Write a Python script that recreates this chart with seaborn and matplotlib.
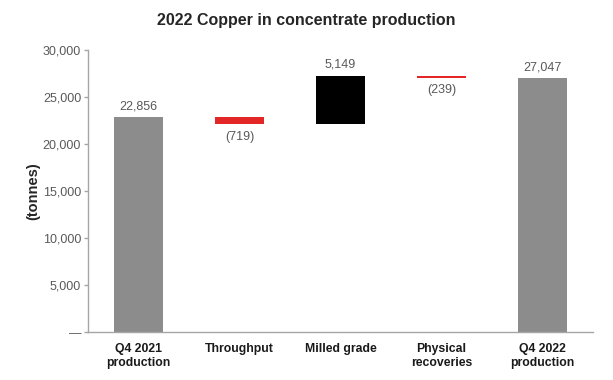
import matplotlib
matplotlib.use("Agg")
import matplotlib.pyplot as plt
import matplotlib.ticker as mticker
import seaborn as sns
import pandas as pd

categories = ["Q4 2021\nproduction", "Throughput", "Milled grade", "Physical\nrecoveries", "Q4 2022\nproduction"]
changes = [22856, -719, 5149, -239, 27047]
kinds = ["total", "step", "step", "step", "total"]
labels = ["22,856", "(719)", "5,149", "(239)", "27,047"]

sns.set_style("white")
plt.rcParams["font.family"] = ["Liberation Sans", "DejaVu Sans"]

# waterfall bottoms and heights
bottoms, heights = [], []
running = 0
for c, k in zip(changes, kinds):
    if k == "total":
        bottoms.append(0)
        heights.append(c)
        running = c
    else:
        lo = min(running, running + c)
        bottoms.append(lo)
        heights.append(abs(c))
        running += c

colors = []
for c, k in zip(changes, kinds):
    if k == "total":
        colors.append("#8c8c8c")
    elif c < 0:
        colors.append("#e32726")
    else:
        colors.append("#000000")

df = pd.DataFrame({"cat": categories,
                   "total": [h if k == "total" else 0 for h, k in zip(heights, kinds)]})

fig = plt.figure(figsize=(6.13, 3.8), dpi=100)
ax = fig.add_axes([0.1436, 0.126, 0.8234, 0.742])

sns.barplot(data=df, x="cat", y="total", ax=ax, palette=colors, hue="cat",
            legend=False, width=0.48, saturation=1, linewidth=0)
for i, (b, h, k) in enumerate(zip(bottoms, heights, kinds)):
    if k == "step":
        ax.bar(i, h, bottom=b, width=0.48, color=colors[i], linewidth=0)

for i, (b, h, c, t) in enumerate(zip(bottoms, heights, changes, labels)):
    if c >= 0:
        ax.text(i, b + h + 500, t, ha="center", va="bottom", fontsize=9, color="#595959")
    else:
        ax.text(i, b - 700, t, ha="center", va="top", fontsize=9, color="#595959")

ax.set_ylim(0, 30000)
ax.set_xlim(-0.5, 4.5)
ax.yaxis.set_major_locator(mticker.MultipleLocator(5000))
ax.yaxis.set_major_formatter(mticker.FuncFormatter(lambda v, p: "\u2014" if v == 0 else f"{int(v):,}"))
ax.tick_params(axis="y", labelsize=9, labelcolor="#595959", color="#a6a6a6",
               length=3, width=1, direction="out", left=True, pad=2)
ax.tick_params(axis="x", length=0, pad=8)
for lbl in ax.get_xticklabels():
    lbl.set_fontweight("bold")
    lbl.set_fontsize(8.8)
    lbl.set_color("#1a1a1a")
    lbl.set_linespacing(1.25)
ax.get_yticklabels()[0].set_color("#c8c8c8")
ax.set_xlabel("")
ax.set_ylabel("(tonnes)", fontsize=10.5, fontweight="bold", labelpad=2)
sns.despine(ax=ax)
for s in ["left", "bottom"]:
    ax.spines[s].set_color("#a6a6a6")
    ax.spines[s].set_linewidth(1)

fig.text(0.5, 0.945, "2022 Copper in concentrate production", ha="center", va="center",
         fontsize=11.5, fontweight="bold")

fig.savefig("out.png", dpi=100)
